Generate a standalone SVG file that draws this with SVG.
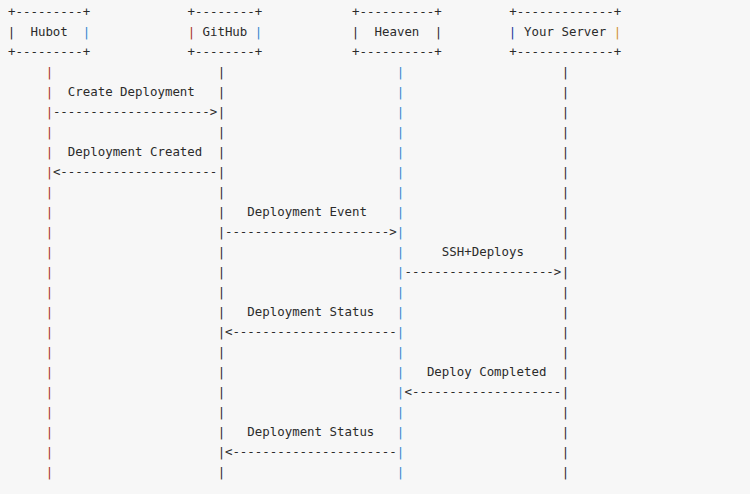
<svg xmlns="http://www.w3.org/2000/svg" width="750" height="494" viewBox="0 0 750 494">
<style>
text{font-family:"DejaVu Sans Mono","Liberation Mono",monospace;font-size:12.42px;fill:#2b2b2b;white-space:pre}
.r{fill:#a8361e}
.b{fill:#2f85d0}
.n{fill:#1c3a9a}
.o{fill:#d09030}
</style>
<rect width="750" height="494" fill="#f7f7f7"/>
<g id="hubot">
<text x="8" y="15.5">+---------+</text>
<text y="35.5"><tspan x="7.76">|</tspan><tspan x="30.44">Hubot</tspan><tspan class="b" x="82.76">|</tspan></text>
<text x="8" y="55.5">+---------+</text>
</g>
<g id="github">
<text x="187.52" y="15.5">+--------+</text>
<text y="35.5"><tspan class="r" x="187.76">|</tspan><tspan x="202.48">GitHub</tspan><tspan class="b" x="254.76">|</tspan></text>
<text x="187.52" y="55.5">+--------+</text>
</g>
<g id="heaven">
<text x="352.08" y="15.5">+----------+</text>
<text y="35.5"><tspan x="351.76">|</tspan><tspan x="374.52">Heaven</tspan><tspan x="434.76">|</tspan></text>
<text x="352.08" y="55.5">+----------+</text>
</g>
<g id="server">
<text x="509.16" y="15.5">+-------------+</text>
<text y="35.5"><tspan class="n" x="508.76">|</tspan><tspan x="524.12">Your Server</tspan><tspan class="o" x="613.76">|</tspan></text>
<text x="509.16" y="55.5">+-------------+</text>
</g>
<g id="connectors">
<g id="lifelines">
<text class="r"><tspan x="45.76" y="75.5">|</tspan><tspan x="45.76" y="95.5">|</tspan><tspan x="45.76" y="115.5">|</tspan><tspan x="45.76" y="135.5">|</tspan><tspan x="45.76" y="155.5">|</tspan><tspan x="45.76" y="175.5">|</tspan><tspan x="45.76" y="195.5">|</tspan><tspan x="45.76" y="215.5">|</tspan><tspan x="45.76" y="235.5">|</tspan><tspan x="45.76" y="255.5">|</tspan><tspan x="45.76" y="275.5">|</tspan><tspan x="45.76" y="295.5">|</tspan><tspan x="45.76" y="315.5">|</tspan><tspan x="45.76" y="335.5">|</tspan><tspan x="45.76" y="355.5">|</tspan><tspan x="45.76" y="375.5">|</tspan><tspan x="45.76" y="395.5">|</tspan><tspan x="45.76" y="415.5">|</tspan><tspan x="45.76" y="435.5">|</tspan><tspan x="45.76" y="455.5">|</tspan><tspan x="45.76" y="475.5">|</tspan></text>
<text><tspan x="217.76" y="75.5">|</tspan><tspan x="217.76" y="95.5">|</tspan><tspan x="217.76" y="115.5">|</tspan><tspan x="217.76" y="135.5">|</tspan><tspan x="217.76" y="155.5">|</tspan><tspan x="217.76" y="175.5">|</tspan><tspan x="217.76" y="195.5">|</tspan><tspan x="217.76" y="215.5">|</tspan><tspan x="217.76" y="235.5">|</tspan><tspan x="217.76" y="255.5">|</tspan><tspan x="217.76" y="275.5">|</tspan><tspan x="217.76" y="295.5">|</tspan><tspan x="217.76" y="315.5">|</tspan><tspan x="217.76" y="335.5">|</tspan><tspan x="217.76" y="355.5">|</tspan><tspan x="217.76" y="375.5">|</tspan><tspan x="217.76" y="395.5">|</tspan><tspan x="217.76" y="415.5">|</tspan><tspan x="217.76" y="435.5">|</tspan><tspan x="217.76" y="455.5">|</tspan><tspan x="217.76" y="475.5">|</tspan></text>
<text class="b"><tspan x="396.76" y="75.5">|</tspan><tspan x="396.76" y="95.5">|</tspan><tspan x="396.76" y="115.5">|</tspan><tspan x="396.76" y="135.5">|</tspan><tspan x="396.76" y="155.5">|</tspan><tspan x="396.76" y="175.5">|</tspan><tspan x="396.76" y="195.5">|</tspan><tspan x="396.76" y="215.5">|</tspan><tspan x="396.76" y="235.5">|</tspan><tspan x="396.76" y="255.5">|</tspan><tspan x="396.76" y="275.5">|</tspan><tspan x="396.76" y="295.5">|</tspan><tspan x="396.76" y="315.5">|</tspan><tspan x="396.76" y="335.5">|</tspan><tspan x="396.76" y="355.5">|</tspan><tspan x="396.76" y="375.5">|</tspan><tspan x="396.76" y="395.5">|</tspan><tspan x="396.76" y="415.5">|</tspan><tspan x="396.76" y="435.5">|</tspan><tspan x="396.76" y="455.5">|</tspan><tspan x="396.76" y="475.5">|</tspan></text>
<text><tspan x="561.76" y="75.5">|</tspan><tspan x="561.76" y="95.5">|</tspan><tspan x="561.76" y="115.5">|</tspan><tspan x="561.76" y="135.5">|</tspan><tspan x="561.76" y="155.5">|</tspan><tspan x="561.76" y="175.5">|</tspan><tspan x="561.76" y="195.5">|</tspan><tspan x="561.76" y="215.5">|</tspan><tspan x="561.76" y="235.5">|</tspan><tspan x="561.76" y="255.5">|</tspan><tspan x="561.76" y="275.5">|</tspan><tspan x="561.76" y="295.5">|</tspan><tspan x="561.76" y="315.5">|</tspan><tspan x="561.76" y="335.5">|</tspan><tspan x="561.76" y="355.5">|</tspan><tspan x="561.76" y="375.5">|</tspan><tspan x="561.76" y="395.5">|</tspan><tspan x="561.76" y="415.5">|</tspan><tspan x="561.76" y="435.5">|</tspan><tspan x="561.76" y="455.5">|</tspan><tspan x="561.76" y="475.5">|</tspan></text>
</g>
<g id="msg-create-deployment">
<text x="67.84" y="95.5">Create Deployment</text>
<text x="52.88" y="115.5">---------------------&gt;</text>
</g>
<g id="msg-deployment-created">
<text x="67.84" y="155.5">Deployment Created</text>
<text x="52.88" y="175.5">&lt;---------------------</text>
</g>
<g id="msg-deployment-event">
<text x="247.36" y="215.5">Deployment Event</text>
<text x="224.92" y="235.5">----------------------&gt;</text>
</g>
<g id="msg-ssh-deploys">
<text x="441.84" y="255.5">SSH+Deploys</text>
<text x="404.44" y="275.5">--------------------&gt;</text>
</g>
<g id="msg-deployment-status-1">
<text x="247.36" y="315.5">Deployment Status</text>
<text x="224.92" y="335.5">&lt;----------------------</text>
</g>
<g id="msg-deploy-completed">
<text x="426.88" y="375.5">Deploy Completed</text>
<text x="404.44" y="395.5">&lt;--------------------</text>
</g>
<g id="msg-deployment-status-2">
<text x="247.36" y="435.5">Deployment Status</text>
<text x="224.92" y="455.5">&lt;----------------------</text>
</g>
</g>
</svg>
